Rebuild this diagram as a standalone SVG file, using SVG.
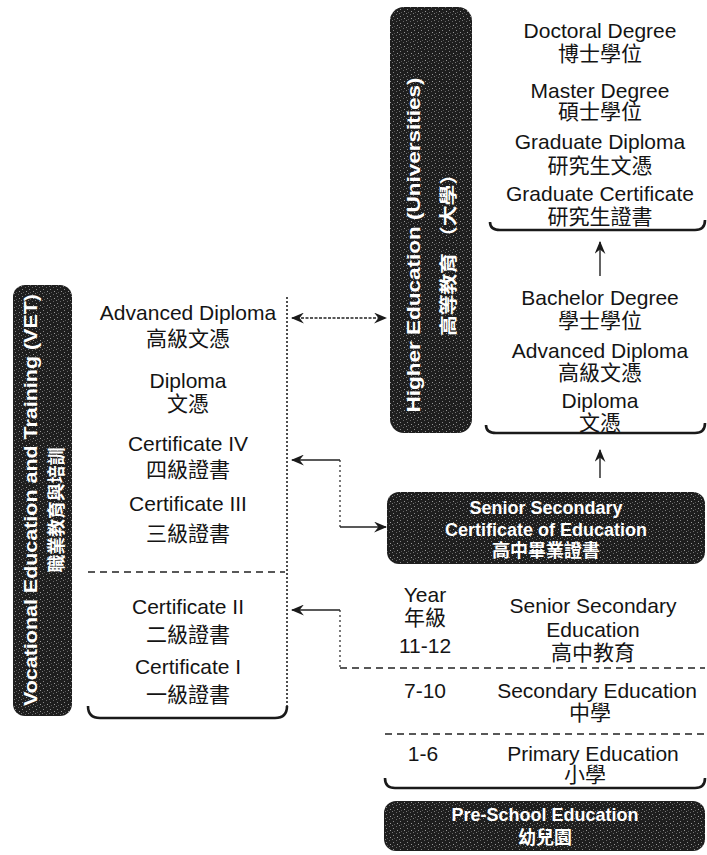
<svg xmlns="http://www.w3.org/2000/svg" width="707" height="855" viewBox="0 0 707 855">
<defs>
<style>
.t{font-family:"Liberation Sans",Arial,"Noto Sans CJK TC",sans-serif;font-size:21px;fill:#141414;text-anchor:middle;dominant-baseline:central}
.w{font-family:"Liberation Sans",Arial,"Noto Sans CJK TC",sans-serif;font-size:18px;font-weight:bold;fill:#fff;text-anchor:middle;dominant-baseline:central}
.bar{fill:#1e1e1e}
.grain{fill:url(#grain)}
.edge{fill:none;stroke:#1a1a1a;stroke-width:2.6}
.dash{fill:none;stroke:#222;stroke-width:1.6;stroke-dasharray:7 5}
.dot{fill:none;stroke:#222;stroke-width:1.6;stroke-dasharray:2 2}
.con{fill:none;stroke:#222;stroke-width:1.4}
.cond{fill:none;stroke:#333;stroke-width:1.3;stroke-dasharray:2 3}
.cons{fill:none;stroke:#222;stroke-width:1.4;stroke-dasharray:3 1.5}
</style>
<pattern id="grain" width="7" height="7" patternUnits="userSpaceOnUse">
<rect x="1" y="2" width="1" height="1" fill="#888"/>
<rect x="4" y="0" width="1" height="1" fill="#666"/>
<rect x="5" y="4" width="1" height="1" fill="#999"/>
<rect x="2" y="5" width="1" height="1" fill="#555"/>
<rect x="0" y="6" width="1" height="1" fill="#777"/>
</pattern>
<marker id="ah" viewBox="0 0 12 10" refX="11" refY="5" markerWidth="13" markerHeight="11" markerUnits="userSpaceOnUse" orient="auto-start-reverse">
<path d="M0,0 L12,5 L0,10 L4,5 z" fill="#1a1a1a"/>
</marker>
</defs>
<rect width="707" height="855" fill="#fff"/>

<g id="vet-bar">
<rect class="bar" x="13" y="285" width="59" height="431" rx="12"/>
<rect class="grain" x="13" y="285" width="59" height="431" rx="12"/>
<text class="w" transform="rotate(-90 31 500)" x="31" y="500" textLength="412" lengthAdjust="spacingAndGlyphs">Vocational Education and Training (VET)</text>
<text class="w" transform="rotate(-90 57 510)" x="57" y="510" textLength="125" lengthAdjust="spacingAndGlyphs">職業教育與培訓</text>
</g>

<g id="vet-box">
<path class="edge" d="M88 706 Q88 718 100 718 H275 Q287 718 287 706"/>
<line class="dot" x1="287" y1="297" x2="287" y2="708"/>
<line class="dash" x1="88" y1="572" x2="285" y2="572"/>
<text class="t" x="188" y="312">Advanced Diploma</text>
<text class="t" x="188" y="338">高級文憑</text>
<text class="t" x="188" y="380">Diploma</text>
<text class="t" x="188" y="403">文憑</text>
<text class="t" x="188" y="443">Certificate IV</text>
<text class="t" x="188" y="469">四級證書</text>
<text class="t" x="188" y="503">Certificate III</text>
<text class="t" x="188" y="533">三級證書</text>
<text class="t" x="188" y="606">Certificate II</text>
<text class="t" x="188" y="634">二級證書</text>
<text class="t" x="188" y="666">Certificate I</text>
<text class="t" x="188" y="694">一級證書</text>
</g>

<g id="higher-ed-bar">
<rect class="bar" x="390" y="7" width="82" height="426" rx="14"/>
<rect class="grain" x="390" y="7" width="82" height="426" rx="14"/>
<text class="w" transform="rotate(-90 414 245)" x="414" y="245" textLength="335" lengthAdjust="spacingAndGlyphs">Higher Education (Universities)</text>
<text class="w" transform="rotate(-90 449 250)" x="449" y="250" textLength="172" lengthAdjust="spacingAndGlyphs">高等教育 （大學）</text>
</g>

<g id="postgrad-box">
<path class="edge" d="M490 222 Q490 230 500 230 H695 Q705 230 705 220"/>
<text class="t" x="600" y="30">Doctoral Degree</text>
<text class="t" x="600" y="53">博士學位</text>
<text class="t" x="600" y="90">Master Degree</text>
<text class="t" x="600" y="111">碩士學位</text>
<text class="t" x="600" y="141">Graduate Diploma</text>
<text class="t" x="600" y="165">研究生文憑</text>
<text class="t" x="600" y="193">Graduate Certificate</text>
<text class="t" x="600" y="216">研究生證書</text>
</g>

<g id="undergrad-box">
<path class="edge" d="M486 425 Q486 433 496 433 H695 Q705 433 705 423"/>
<text class="t" x="600" y="297">Bachelor Degree</text>
<text class="t" x="600" y="320">學士學位</text>
<text class="t" x="600" y="350">Advanced Diploma</text>
<text class="t" x="600" y="372">高級文憑</text>
<text class="t" x="600" y="400">Diploma</text>
<text class="t" x="600" y="422">文憑</text>
</g>

<g id="ssce-box">
<rect class="bar" x="387" y="492" width="318" height="72" rx="12"/>
<rect class="grain" x="387" y="492" width="318" height="72" rx="12"/>
<text class="w" x="546" y="508">Senior Secondary</text>
<text class="w" x="546" y="530">Certificate of Education</text>
<text class="w" x="546" y="551">高中畢業證書</text>
</g>

<g id="school-box">
<path class="edge" d="M385 778 Q385 788 395 788 H695 Q705 788 705 778"/>
<line class="dash" x1="340" y1="668" x2="705" y2="668"/>
<line class="dash" x1="385" y1="734" x2="705" y2="734"/>
<text class="t" x="425" y="594">Year</text>
<text class="t" x="425" y="617">年級</text>
<text class="t" x="425" y="645">11-12</text>
<text class="t" x="593" y="605">Senior Secondary</text>
<text class="t" x="593" y="629">Education</text>
<text class="t" x="593" y="652">高中教育</text>
<text class="t" x="425" y="690">7-10</text>
<text class="t" x="597" y="690">Secondary Education</text>
<text class="t" x="590" y="712">中學</text>
<text class="t" x="423" y="753">1-6</text>
<text class="t" x="593" y="753">Primary Education</text>
<text class="t" x="585" y="774">小學</text>
</g>

<g id="preschool-box">
<rect class="bar" x="384" y="801" width="321" height="50" rx="12"/>
<rect class="grain" x="384" y="801" width="321" height="50" rx="12"/>
<text class="w" x="545" y="815">Pre-School Education</text>
<text class="w" x="545" y="838">幼兒園</text>
</g>

<g id="connectors">
<line class="cons" x1="292" y1="318" x2="386" y2="318" marker-start="url(#ah)" marker-end="url(#ah)"/>
<line class="con" x1="340" y1="460" x2="292" y2="460" marker-end="url(#ah)"/>
<line class="cond" x1="340" y1="460" x2="340" y2="527"/>
<line class="con" x1="340" y1="527" x2="386" y2="527" marker-end="url(#ah)"/>
<line class="con" x1="340" y1="610" x2="292" y2="610" marker-end="url(#ah)"/>
<line class="cond" x1="340" y1="610" x2="340" y2="668"/>
<line class="con" x1="600" y1="276" x2="600" y2="242" marker-end="url(#ah)"/>
<line class="con" x1="600" y1="478" x2="600" y2="450" marker-end="url(#ah)"/>
</g>
</svg>
